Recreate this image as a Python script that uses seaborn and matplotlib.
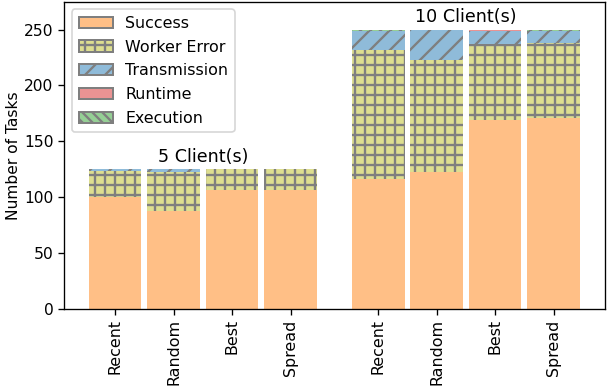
import matplotlib
matplotlib.use("Agg")
import matplotlib.pyplot as plt
from matplotlib.patches import Patch
import numpy as np
import pandas as pd
import seaborn as sns

# ---- data ----
strategies = ["Recent", "Random", "Best", "Spread"]
groups = ["5 Client(s)", "10 Client(s)"]
categories = ["Success", "Worker Error", "Transmission", "Runtime", "Execution"]

success_5 = [100, 88, 107, 107]
worker_5 = [24, 35, 18, 18]
transmission_5 = [1, 2, 0, 0]
runtime_5 = [0, 0, 0, 0]
execution_5 = [0, 0, 0, 0]

success_10 = [116, 123, 169, 171]
worker_10 = [116, 100, 68, 67]
transmission_10 = [17, 27, 12, 11]
runtime_10 = [0, 0, 1, 0]
execution_10 = [1, 0, 0, 1]

colors = ["#ffbf86", "#ddde90", "#8fbbd9", "#ea9393", "#95cf95"]
hatches = ["", "++", "//", "", "\\\\\\\\"]

# ---- build table ----
x_pos = [0, 1, 2, 3, 4.5, 5.5, 6.5, 7.5]
layers = {
    "Success": success_5 + success_10,
    "Worker Error": worker_5 + worker_10,
    "Transmission": transmission_5 + transmission_10,
    "Runtime": runtime_5 + runtime_10,
    "Execution": execution_5 + execution_10,
}
df = pd.DataFrame(layers)
df["x"] = x_pos
cum = df[categories].cumsum(axis=1)

plt.rcParams["hatch.linewidth"] = 1.4
plt.rcParams["hatch.color"] = "#7f7f7f"
plt.rcParams["font.family"] = ["DejaVu Sans"]

fig = plt.figure(figsize=(607 / 120, 387 / 120), dpi=120)
ax = fig.add_axes([0.106, 0.2008, 0.8907, 0.7952])

# draw cumulative layers from top to bottom so lower layers cover upper ones
for i in range(len(categories) - 1, -1, -1):
    cat = categories[i]
    d = pd.DataFrame({"x": x_pos, "y": cum[cat].values})
    sns.barplot(data=d, x="x", y="y", native_scale=True, width=0.9,
                color=colors[i], saturation=1, hatch=hatches[i],
                edgecolor="#7f7f7f", linewidth=0, errorbar=None, ax=ax)

ax.set_xlim(-0.87, 8.38)
ax.set_ylim(0, 275)
ax.set_xticks(x_pos)
ax.set_xticklabels(strategies * 2, rotation=90, fontsize=9.5)
ax.tick_params(axis="x", pad=2.5)
ax.tick_params(axis="y", labelsize=9.3, pad=3)
ax.set_xlabel("")
ax.set_ylabel("Number of Tasks", fontsize=9.3, labelpad=2)

totals_5 = cum["Execution"].values[:4].max()
totals_10 = cum["Execution"].values[4:].max()
ax.text(1.5, totals_5 + 11, groups[0], ha="center", va="center", fontsize=10.5)
ax.text(6.0, totals_10 + 11, groups[1], ha="center", va="center", fontsize=10.5)

handles = [Patch(facecolor=colors[i], edgecolor="#7f7f7f", hatch=hatches[i],
                 linewidth=1.2, label=categories[i]) for i in range(len(categories))]
ax.legend(handles=handles, loc="upper left", fontsize=9.5, labelspacing=0.55,
          handlelength=2.15)

for s in ax.spines.values():
    s.set_visible(True)
    s.set_color("black")

fig.savefig("out.png", dpi=120)
